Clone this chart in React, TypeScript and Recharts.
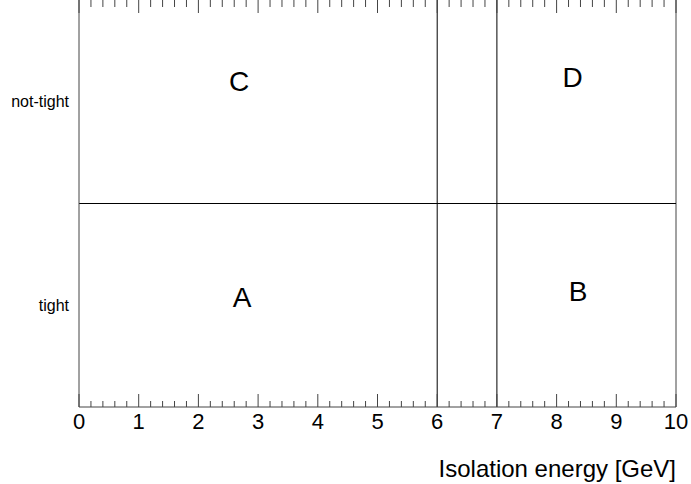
import {
    ComposedChart,
    ReferenceLine,
    Scatter,
    XAxis,
    YAxis,
    Label,
} from "recharts";

// regions of the ABCD plane: letter + where it sits
const regionNames = ["C", "D", "A", "B"];
const regionX = [2.68, 8.27, 2.73, 8.36];
const regionY = [1.6, 1.62, 0.54, 0.57];

const majorTicks = [0, 1, 2, 3, 4, 5, 6, 7, 8, 9, 10];
const minorPerMajor = 5;

const yCategories = ["tight", "not-tight"];
const yCategoryPos = [0.5, 1.5];

const cutsX = [6, 7];
const cutY = 1;

const xTitle = "Isolation energy [GeV]";

const regions = regionNames.map((name, i) => ({
    name,
    x: regionX[i],
    y: regionY[i],
}));

// minor tick positions between majors
const allTicks: number[] = [];
for (let i = 0; i < majorTicks.length - 1; i++) {
    for (let j = 0; j < minorPerMajor; j++) {
        const step = (majorTicks[i + 1] - majorTicks[i]) / minorPerMajor;
        allTicks.push(Math.round((majorTicks[i] + j * step) * 100) / 100);
    }
}
allTicks.push(majorTicks[majorTicks.length - 1]);

const FONT = "'Liberation Sans', Arial, sans-serif";
const INK = "#000";
const FRAME = "#444";

const isMajor = (v: number) => majorTicks.includes(v);

function BottomTick(props: any) {
    const { x, y, payload } = props;
    const v = payload.value as number;
    const len = isMajor(v) ? 13 : 6;
    return (
        <g>
            <line x1={x} x2={x} y1={y} y2={y - len} stroke={FRAME} strokeWidth={1} />
            {isMajor(v) && (
                <text
                    x={x}
                    y={y + 22}
                    textAnchor="middle"
                    fontSize={22}
                    fontFamily={FONT}
                    fill={INK}
                >
                    {v}
                </text>
            )}
        </g>
    );
}

function TopTick(props: any) {
    const { x, payload } = props;
    const v = payload.value as number;
    const len = isMajor(v) ? 13 : 7;
    return <line x1={x} x2={x} y1={0} y2={len} stroke={FRAME} strokeWidth={1} />;
}

function RegionLetter(props: any) {
    const { cx, cy, payload } = props;
    return (
        <text
            x={cx}
            y={cy}
            dy="0.36em"
            textAnchor="middle"
            fontSize={28}
            fontFamily={FONT}
            fill={INK}
        >
            {payload.name}
        </text>
    );
}

function AxisTitle(props: any) {
    const { viewBox } = props;
    return (
        <text
            x={viewBox.x + viewBox.width}
            y={viewBox.y + 70}
            textAnchor="end"
            fontSize={24}
            fontFamily={FONT}
            fill={INK}
        >
            {xTitle}
        </text>
    );
}

export default function App() {
    return (
        <div style={{ position: "absolute", left: 0, top: 0, background: "#fff" }}>
            <ComposedChart
                width={691}
                height={484}
                data={regions}
                margin={{ top: -1, right: 15, bottom: 0, left: 0 }}
            >
                <XAxis
                    xAxisId="bottom"
                    type="number"
                    dataKey="x"
                    domain={[0, 10]}
                    ticks={allTicks}
                    interval={0}
                    tick={<BottomTick />}
                    tickSize={0}
                    tickMargin={0}
                    tickLine={false}
                    height={77}
                    axisLine={{ stroke: FRAME }}
                    allowDataOverflow
                >
                    <Label content={<AxisTitle />} />
                </XAxis>
                <XAxis
                    xAxisId="top"
                    orientation="top"
                    type="number"
                    dataKey="x"
                    domain={[0, 10]}
                    ticks={allTicks}
                    interval={0}
                    tick={<TopTick />}
                    tickSize={0}
                    tickMargin={0}
                    tickLine={false}
                    height={1}
                    axisLine={false}
                    allowDataOverflow
                />
                <YAxis
                    type="number"
                    dataKey="y"
                    domain={[0, 2]}
                    ticks={yCategoryPos}
                    tickFormatter={(v: number) => yCategories[yCategoryPos.indexOf(v)]}
                    width={79}
                    tickLine={false}
                    tickSize={6}
                    tickMargin={4}
                    axisLine={{ stroke: FRAME }}
                    tick={{ fontSize: 16, fontFamily: FONT, fill: INK }}
                    allowDataOverflow
                />
                <ReferenceLine xAxisId="bottom" x={10} stroke={FRAME} strokeWidth={1} />
                {cutsX.map((c) => (
                    <ReferenceLine key={c} xAxisId="bottom" x={c} stroke={INK} strokeWidth={1} />
                ))}
                <ReferenceLine xAxisId="bottom" y={cutY} stroke={INK} strokeWidth={1} />
                <Scatter
                    xAxisId="bottom"
                    data={regions}
                    dataKey="y"
                    shape={<RegionLetter />}
                    isAnimationActive={false}
                />
            </ComposedChart>
        </div>
    );
}
